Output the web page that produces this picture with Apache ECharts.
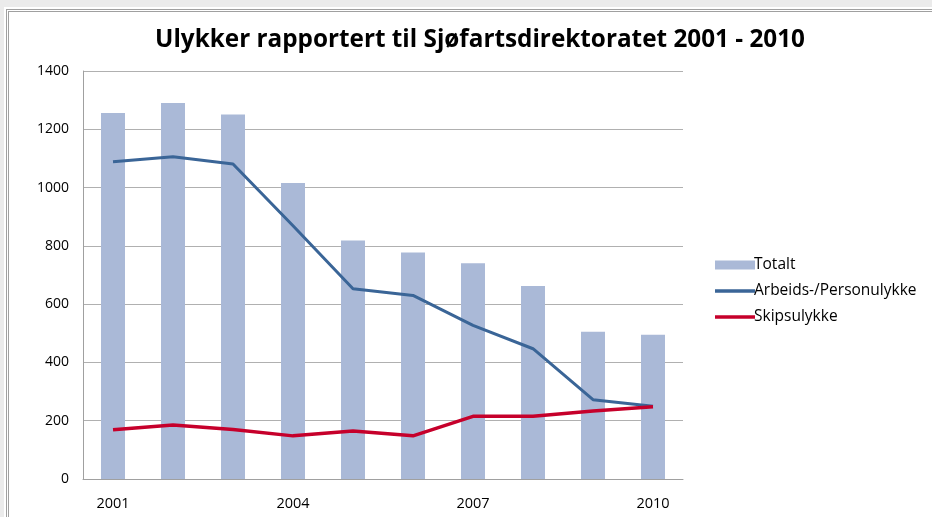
<!DOCTYPE html>
<html>
<head>
<meta charset="utf-8">
<script src="https://cdn.jsdelivr.net/npm/echarts@6/dist/echarts.min.js"></script>
<style>
  html, body { margin: 0; padding: 0; background: #ebebeb; overflow: hidden; }
  #frame {
    position: absolute; left: 6px; top: 9px; width: 940px; height: 520px;
    background: #fff; border-left: 3px double #a0a0a0; border-top: 3px double #a0a0a0;
    box-shadow: -2px -2px 0 #fff;
  }
  #chart { position: absolute; left: 0; top: 0; width: 932px; height: 517px; }
</style>
</head>
<body>
<div id="frame"></div>
<div id="chart"></div>
<script>
// data
const years = ['2001', '2002', '2003', '2004', '2005', '2006', '2007', '2008', '2009', '2010'];
const totalt = [1256, 1290, 1251, 1016, 818, 777, 740, 662, 505, 495];
const arbeidsPerson = [1089, 1106, 1081, 869, 653, 630, 527, 447, 272, 250];
const skipsulykke = [169, 185, 170, 148, 165, 148, 215, 215, 233, 248];

const font = '"Open Sans", Lato, sans-serif';
const lineIcon = 'path://M0,0H40V3.5H0Z';

const chart = echarts.init(document.getElementById('chart'), null, { renderer: 'canvas' });

chart.setOption({
  backgroundColor: 'transparent',
  animation: false,
  title: {
    text: 'Ulykker rapportert til Sjøfartsdirektoratet 2001 - 2010',
    left: 475, top: 23, textAlign: 'center',
    textStyle: { fontFamily: font, fontWeight: 'bold', fontSize: 24.3, color: '#000' },
  },
  legend: {
    orient: 'vertical', left: 710, top: 252, itemGap: 10,
    itemWidth: 40, itemHeight: 9,
    textStyle: { fontFamily: font, fontSize: 15.5, color: '#000', padding: [0, 0, 0, -6] },
    data: [
      { name: 'Totalt', icon: 'rect' },
      { name: 'Arbeids-/Personulykke', icon: lineIcon },
      { name: 'Skipsulykke', icon: lineIcon },
    ],
  },
  grid: { left: 83, right: 249, top: 71, bottom: 38 },
  xAxis: {
    type: 'category',
    data: years,
    axisLine: { lineStyle: { color: '#a0a0a0', width: 1 } },
    axisTick: { show: false },
    axisLabel: { interval: 2, color: '#000', fontFamily: font, fontSize: 14.5, margin: 17 },
  },
  yAxis: {
    type: 'value', min: 0, max: 1400, interval: 200,
    axisLine: { show: true, lineStyle: { color: '#a0a0a0' } },
    axisTick: { show: false },
    axisLabel: { color: '#000', fontFamily: font, fontSize: 14, margin: 14, formatter: (v) => String(v) },
    splitLine: { lineStyle: { color: '#b0b0b0', width: 1 } },
  },
  series: [
    {
      name: 'Totalt', type: 'bar', data: totalt, barWidth: 24,
      itemStyle: { color: '#aab9d7' },
    },
    {
      name: 'Arbeids-/Personulykke', type: 'line', data: arbeidsPerson,
      symbol: 'none', lineStyle: { color: '#3a6597', width: 3 }, itemStyle: { color: '#3a6597' },
    },
    {
      name: 'Skipsulykke', type: 'line', data: skipsulykke,
      symbol: 'none', lineStyle: { color: '#c6002b', width: 3.5 }, itemStyle: { color: '#c6002b' },
    },
  ],
});
</script>
</body>
</html>
